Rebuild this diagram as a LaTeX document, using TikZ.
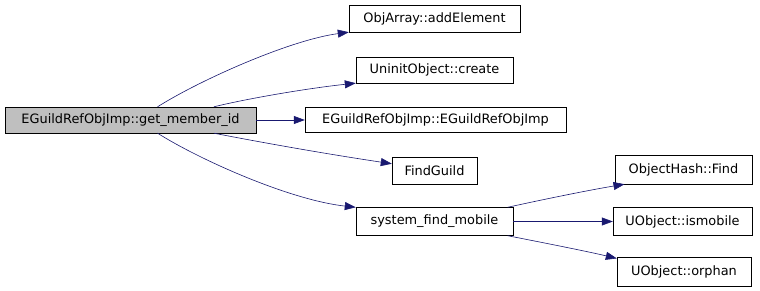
\documentclass[tikz,border=0pt]{standalone}
\usepackage{fontspec}
\setmainfont{DejaVu Sans}
\usetikzlibrary{arrows.meta}
\definecolor{edgeblue}{HTML}{191970}
\definecolor{rootgray}{HTML}{BFBFBF}

\begin{document}
\begin{tikzpicture}[x=1pt, y=-1pt, font=\fontsize{12.9}{15}\selectfont,
    fn/.style={ draw, inner sep=0pt, minimum height=27pt, align=center },
        root/.style={ fn, fill=rootgray }, call/.style={
        -{Triangle[length=11pt,width=8pt]}, draw=edgeblue, semithick} ]

    \useasboundingbox (0,0) rectangle (760,291);

    \node[root, minimum width=251pt, minimum height=26pt] (getid) at
    (130.5,120) {EGuildRefObjImp::get\_member\_id}; \node[fn, minimum
    width=171pt] (addel) at (434.5,18.5) {ObjArray::addElement}; \node[fn,
    minimum width=157pt, minimum height=26pt] (create) at (434.5,70)
    {UninitObject::create}; \node[fn, minimum width=261pt, minimum
    height=25pt] (ctor) at (435.5,120) {EGuildRefObjImp::EGuildRefObjImp};
    \node[fn, minimum width=85pt] (findguild) at (434.5,170.5) {FindGuild};
    \node[fn, minimum width=157pt, minimum height=28pt] (sysfind) at
    (434.5,221.5) {system\_find\_mobile}; \node[fn, minimum width=137pt,
    minimum height=29pt] (hashfind) at (683.5,169.5) {ObjectHash::Find};
    \node[fn, minimum width=139pt, minimum height=28pt] (ismobile) at
    (682.5,221.5) {UObject::ismobile}; \node[fn, minimum width=134pt, minimum
    height=29pt] (orphan) at (684,271.5) {UObject::orphan};

    \draw[call] (getid.26) .. controls (200,80) and (290,40) ..
    (addel.south west); \draw[call] (getid.9) .. controls (250,98) and
    (310,88) .. (create.south west); \draw[call] (getid.east) -- (ctor.west);
    \draw[call] (getid.-9) .. controls (280,146) and (340,156) ..
    (findguild.171); \draw[call] (getid.-26) .. controls (200,160) and
    (290,200) .. (sysfind.north west);

    \draw[call] (sysfind.11) .. controls (550,198) and (590,190) ..
    (hashfind.194); \draw[call] (sysfind.east) -- (ismobile.west); \draw[call]
    (sysfind.-11) .. controls (550,244) and (590,252) .. (orphan.169);

\end{tikzpicture}
\end{document}
